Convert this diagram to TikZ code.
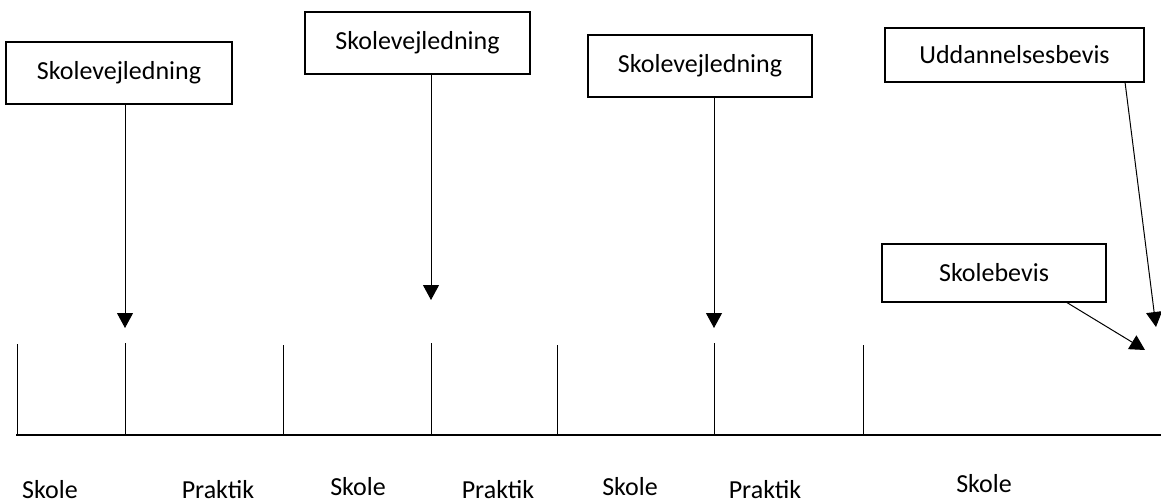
\documentclass[tikz,border=0pt]{standalone}
\usepackage{fontspec}
\setmainfont{Carlito}
\usetikzlibrary{arrows.meta}
\begin{document}
\begin{tikzpicture}[x=1pt,y=-1pt,
  box/.style={draw, line width=1.3pt, inner sep=0pt, font=\fontsize{26}{30}\selectfont},
  lbl/.style={inner sep=0pt, anchor=base, font=\fontsize{26}{30}\selectfont},
  arr/.style={line width=1pt, -{Triangle[length=15pt,width=16pt]}},
  tick/.style={line width=1pt}]
\useasboundingbox (0,0) rectangle (1161,503);
% boxes
\node[box, minimum width=226pt, minimum height=62pt] (b1) at (119,73) {Skolevejledning};
\node[box, minimum width=225pt, minimum height=62pt] (b2) at (417.5,43) {Skolevejledning};
\node[box, minimum width=224pt, minimum height=62pt] (b3) at (700,66) {Skolevejledning};
\node[box, minimum width=259pt, minimum height=54pt] (b4) at (1014.5,55) {Uddannelsesbevis};
\node[box, minimum width=224pt, minimum height=58pt] (b5) at (994,273) {Skolebevis};
% arrow tips
\coordinate (a1) at (125,328);
\coordinate (a2) at (431,300);
\coordinate (a3) at (714,328);
\coordinate (a4) at (1156,327);
\coordinate (a5) at (1145,350);
\coordinate (s4) at (1125,82);
\coordinate (s5) at (1066,302);
\draw[arr] (b1.south -| a1) -- (a1);
\draw[arr] (b2.south -| a2) -- (a2);
\draw[arr] (b3.south -| a3) -- (a3);
\draw[arr] (s4) -- (a4);
\draw[arr] (s5) -- (a5);
% timeline
\coordinate (L) at (16,435);
\coordinate (R) at (1161,435);
\draw[line width=1.2pt] (L) -- (R);
\foreach \x/\t in {17/344,125/343,283/345,431/343,557/345,714/343,863/345}
  \draw[tick] (\x,\t) -- (\x,435);
% labels
\node[lbl] (l1) at (50,498) {Skole};
\node[lbl] (l2) at (218,498) {Praktik};
\node[lbl] (l3) at (358,495) {Skole};
\node[lbl] (l4) at (498,498) {Praktik};
\node[lbl] (l5) at (630,495) {Skole};
\node[lbl] (l6) at (765,498) {Praktik};
\node[lbl] (l7) at (984,492) {Skole};
\end{tikzpicture}
\end{document}
